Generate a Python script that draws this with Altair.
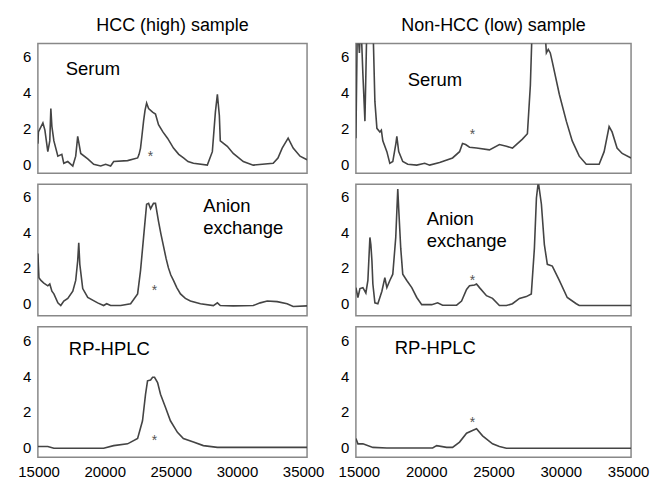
import altair as alt
import pandas as pd

FONT = "Liberation Sans"

# ---------------- data (mass in Da, intensity) ----------------
hcc_serum_x = [14950, 14990, 15330, 15480, 15700, 15850, 15930, 16010, 16160, 16460, 16760, 16910, 17210,
               17590, 17810, 17960, 18190, 18720, 19170, 19700, 20070, 20450, 20680, 21730, 22490, 22600,
               22710, 22820, 22940, 23050, 23170, 23320, 23620, 23840, 24070, 24400, 24750, 25000, 25200,
               25600, 25960, 26300, 26710, 27760, 28140, 28370, 28520, 28670, 28740, 29270, 29720, 30480,
               31230, 32740, 33100, 33420, 33870, 34250, 34770, 35300]
hcc_serum_y = [1.15, 1.8, 2.3, 1.9, 0.7, 1.3, 3.1, 2.1, 1.3, 0.45, 0.55, 0.05, 0.15,
               -0.1, 0.45, 1.55, 0.6, 0.3, 0.0, -0.1, 0.0, -0.1, 0.15, 0.2, 0.35, 0.55,
               0.9, 1.6, 2.4, 3.0, 3.4, 3.1, 2.9, 2.8, 2.2, 1.8, 1.45, 1.15, 0.9,
               0.55, 0.35, 0.15, 0.05, -0.05, 0.7, 2.9, 3.9, 2.7, 1.3, 1.0, 0.6, 0.15,
               -0.05, 0.05, 0.35, 0.9, 1.45, 0.9, 0.45, 0.25]

hcc_anion_x = [14950, 15030, 15180, 15400, 15700, 15850, 16010, 16160, 16460, 16680, 16910, 17210, 17590,
               17810, 17960, 18040, 18120, 18340, 18720, 19470, 19920, 20150, 20450, 21210, 21960, 22490,
               22710, 22940, 23170, 23320, 23470, 23690, 23840, 24070, 24250, 24450, 24650, 24820, 25000,
               25200, 25450, 25730, 26100, 26480, 27240, 28220, 28520, 28740, 29720, 31230, 31760, 32290,
               33040, 33790, 34250, 35300]
hcc_anion_y = [2.8, 1.45, 1.3, 1.15, 1.0, 1.1, 0.7, 0.55, 0.05, -0.1, 0.15, 0.3, 0.7,
               1.3, 2.4, 3.4, 2.2, 0.85, 0.35, 0.05, -0.1, 0.0, -0.1, -0.1, 0.0, 0.55,
               1.85, 3.7, 5.55, 5.6, 5.3, 5.6, 5.6, 4.6, 3.9, 3.2, 2.5, 2.0, 1.6,
               1.3, 0.9, 0.55, 0.3, 0.15, 0.0, -0.1, 0.05, -0.1, -0.12, -0.1, 0.05, 0.15,
               0.12, 0.0, -0.15, -0.12]

hcc_rp_x = [14950, 15700, 16160, 18420, 19920, 20680, 21730, 22490, 22860, 23090, 23240, 23470,
            23620, 23770, 24000, 24220, 24600, 24970, 25500, 25950, 26710, 27460, 28520, 35300]
hcc_rp_y = [0.05, 0.05, -0.05, -0.05, -0.05, 0.1, 0.2, 0.5, 1.5, 3.0, 3.75, 3.8,
            3.95, 3.95, 3.65, 3.0, 2.25, 1.5, 0.85, 0.5, 0.3, 0.1, 0.0, 0.0]

non_serum_x = [14780, 14890, 15040, 15150, 15300, 15450, 15600, 16040, 16190, 16340, 16560, 16670, 16780,
               17080, 17300, 17520, 17740, 17820, 17960, 18260, 18630, 19300, 19890, 20260, 21000, 21960,
               22480, 22700, 22930, 23220, 23740, 24700, 25440, 25960, 26410, 27150, 27520, 27740, 27890,
               28780, 28930, 29070, 29220, 29370, 29890, 30410, 30850, 31370, 31890, 32850, 33220, 33590,
               33810, 34180, 34560, 35220]
non_serum_y = [1.45, 8, 6.2, 8, 5.0, 2.4, 8, 8, 3.5, 2.0, 1.8, 1.9, 1.3,
               0.7, 0.05, 0.15, 1.1, 1.55, 0.7, 0.15, 0.0, -0.05, 0.05, -0.05, 0.1, 0.35,
               0.7, 1.15, 1.1, 0.95, 0.9, 0.8, 1.1, 1.0, 0.9, 1.4, 1.7, 4.4, 8,
               8, 6.2, 6.4, 6.2, 5.7, 3.9, 2.4, 1.3, 0.45, 0.0, 0.0, 0.7, 2.1,
               1.8, 0.9, 0.6, 0.35]

non_anion_x = [14780, 14930, 15080, 15300, 15520, 15670, 15820, 15890, 15970, 16040, 16190, 16410, 16710,
               16930, 17080, 17300, 17520, 17740, 17890, 17960, 18110, 18260, 18560, 18930, 19300, 19670,
               20410, 20850, 21220, 22260, 22630, 23000, 23220, 23590, 23740, 23960, 24480, 24930, 25440,
               25960, 26410, 26930, 27440, 27810, 28040, 28190, 28330, 28560, 28780, 29000, 29370, 29890,
               30480, 31150, 31370, 35220]
non_anion_y = [0.9, 0.35, 0.85, 0.9, 0.6, 1.3, 3.7, 3.3, 2.4, 1.1, 0.05, 0.0, 0.7,
               1.45, 0.9, 1.3, 1.65, 3.7, 6.4, 5.3, 3.1, 1.65, 1.3, 0.9, 0.35, -0.05,
               -0.05, 0.05, -0.08, -0.08, 0.15, 0.8, 1.0, 1.05, 1.1, 0.9, 0.45, 0.3, -0.1,
               -0.1, 0.0, 0.3, 0.4, 0.55, 3.1, 5.9, 6.8, 5.55, 3.3, 2.2, 2.1, 1.3,
               0.35, 0.0, -0.1, -0.1]

non_rp_x = [14780, 14930, 15300, 16040, 17080, 20480, 20780, 21520, 21960, 22480, 23000, 23440,
            23740, 24190, 24930, 25440, 25960, 35220]
non_rp_y = [0.5, 0.2, 0.2, 0.0, -0.03, -0.03, 0.1, 0.0, 0.0, 0.3, 0.8, 0.95,
            1.05, 0.65, 0.2, 0.05, -0.05, -0.05]

column_titles = ["HCC (high) sample", "Non-HCC (low) sample"]
x_ticks = [15000, 20000, 25000, 30000, 35000]
y_ticks = [0, 2, 4, 6]

# panel labels: text, x, y (data units)
lbl_hcc_serum = (["Serum"], [17060], [5.33])
lbl_non_serum = (["Serum"], [18630], [4.7])
lbl_hcc_anion = (["Anion", "exchange"], [27460, 27460], [5.45, 4.2])
lbl_non_anion = (["Anion", "exchange"], [20040, 20040], [4.7, 3.5])
lbl_hcc_rp = (["RP-HPLC"], [17290], [5.53])
lbl_non_rp = (["RP-HPLC"], [17670], [5.6])

# asterisk markers (x, y in data units)
star_hcc = [(23470, 0.55), (23770, 0.9), (23770, 0.55)]
star_non = [(23445, 1.8), (23445, 1.45), (23445, 1.55)]

LEFT_DOMAIN = [14950, 35300]
RIGHT_DOMAIN = [14780, 35220]
ROW_DOMAINS = [[-0.5, 6.72], [-0.67, 6.67], [-0.56, 6.8]]
ROW_HEIGHTS = [130, 132, 131]


def panel(xs, ys, lbl, star, xdom, ydom, w, h, title=None, bottom=False):
    df = pd.DataFrame({"mz": xs, "intensity": ys})
    if bottom:
        xaxis = alt.Axis(values=x_ticks, format="d", labelFontSize=15, labelPadding=7,
                         ticks=False, tickSize=0, domain=False, grid=False, labelFlush=False,
                         labelFont=FONT, labelColor="black", title=None)
    else:
        xaxis = None
    x = alt.X("mz:Q", scale=alt.Scale(domain=xdom, nice=False, zero=False), axis=xaxis, title=None)
    y = alt.Y("intensity:Q", scale=alt.Scale(domain=ydom, nice=False, zero=False),
              axis=alt.Axis(values=y_ticks, labelFontSize=15, labelPadding=7, ticks=False, tickSize=0,
                            domain=False, grid=False, labelFont=FONT, labelColor="black", title=None),
              title=None)
    line = alt.Chart(df).mark_line(clip=True, color="#444444", strokeWidth=1.6).encode(x=x, y=y)
    ldf = pd.DataFrame({"text": lbl[0], "mz": lbl[1], "intensity": lbl[2]})
    labels = alt.Chart(ldf).mark_text(align="left", baseline="middle", fontSize=18.5, font=FONT,
                                      color="black").encode(x=x, y=y, text="text:N")
    sdf = pd.DataFrame({"mz": [star[0]], "intensity": [star[1]], "s": ["*"]})
    st = alt.Chart(sdf).mark_text(align="center", baseline="middle", fontSize=14, font=FONT,
                                  color="#555555", dy=3).encode(x=x, y=y, text="s:N")
    ch = alt.layer(line, labels, st).properties(width=w, height=h)
    if title:
        ch = ch.properties(title=alt.TitleParams(title, fontSize=18, font=FONT, fontWeight="normal",
                                                 color="black", offset=9, anchor="middle"))
    return ch


lt = panel(hcc_serum_x, hcc_serum_y, lbl_hcc_serum, star_hcc[0], LEFT_DOMAIN, ROW_DOMAINS[0], 270, ROW_HEIGHTS[0], title=column_titles[0])
rt = panel(non_serum_x, non_serum_y, lbl_non_serum, star_non[0], RIGHT_DOMAIN, ROW_DOMAINS[0], 276, ROW_HEIGHTS[0], title=column_titles[1])
lm = panel(hcc_anion_x, hcc_anion_y, lbl_hcc_anion, star_hcc[1], LEFT_DOMAIN, ROW_DOMAINS[1], 270, ROW_HEIGHTS[1])
rm = panel(non_anion_x, non_anion_y, lbl_non_anion, star_non[1], RIGHT_DOMAIN, ROW_DOMAINS[1], 276, ROW_HEIGHTS[1])
lb = panel(hcc_rp_x, hcc_rp_y, lbl_hcc_rp, star_hcc[2], LEFT_DOMAIN, ROW_DOMAINS[2], 270, ROW_HEIGHTS[2], bottom=True)
rb = panel(non_rp_x, non_rp_y, lbl_non_rp, star_non[2], RIGHT_DOMAIN, ROW_DOMAINS[2], 276, ROW_HEIGHTS[2], bottom=True)

chart = alt.ConcatChart(
    concat=[lt, rt, lm, rm, lb, rb],
    columns=2,
    spacing={"row": 11, "column": 49},
    bounds="flush",
    align="each",
).properties(
    padding={"left": 17, "top": 15, "right": 0, "bottom": 0},
    background="white",
).configure_view(
    stroke="#888888", strokeWidth=1.5
).configure_axis(
    grid=False
)

chart.save("out.html", embed_options={"renderer": "svg", "actions": False})
